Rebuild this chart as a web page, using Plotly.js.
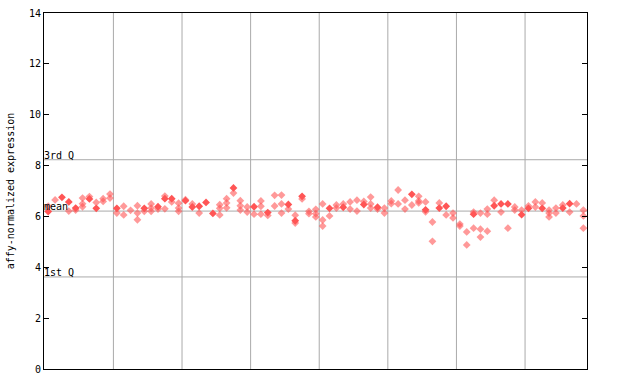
<!DOCTYPE html>
<html><head><meta charset="utf-8">
<script src="https://cdn.plot.ly/plotly-3.0.1.min.js"></script>
<style>body{margin:0;padding:0;background:#fff}#chart{width:640px;height:384px}</style>
</head><body><div id="chart"></div>
<script>
// sample column index for each point, value, and whether it's a highlighted (solid) point
const solidX = [0,2,3,4,6,7,10,14,16,17,18,20,21,22,23,24,27,30,32,35,36,37,41,43,46,48,53,55,57,58,62,65,66,67,69,70,72,75,76];
const solidY = [6.19,6.75,6.57,6.33,6.69,6.32,6.32,6.32,6.38,6.70,6.70,6.62,6.37,6.40,6.55,6.12,7.12,6.38,6.15,6.47,5.83,6.79,6.32,6.36,6.47,6.36,6.87,6.26,6.33,6.40,6.09,6.42,6.49,6.49,6.07,6.32,6.32,6.33,6.50];
const lightX = [0,1,3,4,5,5,5,6,7,8,8,9,9,
  10,11,11,12,13,13,13,14,15,15,15,16,17,17,18,19,19,19,
  20,21,22,25,25,25,26,26,26,27,28,28,28,29,29,
  30,31,31,31,32,33,33,34,34,34,35,36,36,37,38,38,39,39,39,
  40,40,40,41,42,42,43,44,44,45,45,46,47,47,47,48,49,49,
  50,50,51,51,52,52,53,54,54,54,55,55,56,56,57,58,59,59,
  60,60,61,61,62,62,63,63,63,64,64,64,65,66,67,68,68,69,
  70,71,71,72,73,73,73,74,74,75,76,77,78,78,78];
const lightY = [6.40,6.65,6.21,6.25,6.72,6.50,6.38,6.78,6.55,6.70,6.59,6.88,6.72,
  6.13,6.40,6.06,6.24,6.42,6.13,5.87,6.20,6.49,6.33,6.20,6.29,6.80,6.30,6.57,6.52,6.33,6.20,
  6.66,6.49,6.13,6.46,6.32,6.06,6.70,6.53,6.34,6.92,6.62,6.42,6.25,6.37,6.17,
  6.09,6.61,6.40,6.09,6.04,6.83,6.41,6.84,6.49,6.13,6.29,6.05,5.74,6.69,6.20,6.11,6.28,6.11,5.98,
  6.49,5.86,5.62,6.02,6.45,6.33,6.49,6.57,6.29,6.64,6.21,6.59,6.76,6.49,6.33,6.29,6.33,6.13,
  6.61,6.50,7.04,6.49,6.64,6.29,6.45,6.79,6.61,6.53,6.57,6.18,5.78,5.02,6.53,6.06,6.13,5.94,
  5.70,5.62,5.39,4.88,6.17,5.54,6.13,5.50,5.19,6.29,6.09,5.42,6.64,6.17,5.54,6.37,6.25,6.25,
  6.41,6.57,6.37,6.53,6.25,6.13,5.98,6.33,6.13,6.45,6.17,6.49,6.25,6.02,5.54];
const groupBounds = [9.5,19.5,29.5,39.5,49.5,59.5,69.5];
const refLines = [8.23, 6.21, 3.62];
const refLabels = ["3rd Q", "mean", "1st Q"];
const yTicks = [0,2,4,6,8,10,12,14];

const mono = "DejaVu Sans Mono, Liberation Mono, monospace";
const traces = [
  {type:'scatter', mode:'markers', x:lightX, y:lightY, hoverinfo:'none',
   marker:{symbol:'diamond', size:6, color:'rgba(255,85,85,0.6)', line:{width:0}}},
  {type:'scatter', mode:'markers', x:solidX, y:solidY, hoverinfo:'none',
   marker:{symbol:'diamond', size:6, color:'#ff5555', line:{width:0}}}
];
const shapes = [];
groupBounds.forEach(b => shapes.push({type:'line', xref:'x', yref:'paper', x0:b, x1:b, y0:0, y1:1, line:{color:'#aaaaaa', width:1}, layer:'below'}));
refLines.forEach(v => shapes.push({type:'line', xref:'paper', yref:'y', x0:0, x1:1, y0:v, y1:v, line:{color:'#aaaaaa', width:1}, layer:'below'}));
const annotations = refLines.map((v,i) => ({xref:'paper', yref:'y', x:0, y:v, text:refLabels[i], showarrow:false,
  xanchor:'left', yanchor:'bottom', xshift:-2, yshift:-3, font:{family:mono, size:10, color:'#000'}}));

const layout = {
  width:640, height:384, showlegend:false,
  paper_bgcolor:'#fff', plot_bgcolor:'#fff',
  margin:{l:44, r:53, t:13, b:15, pad:0},
  xaxis:{range:[-0.617, 78.53], showgrid:false, zeroline:false, showticklabels:false, ticks:'',
         showline:true, linecolor:'#000', linewidth:1, mirror:true, fixedrange:true},
  yaxis:{range:[0,14], tickvals:yTicks, ticktext:yTicks.map(String), showgrid:false, zeroline:false,
         ticks:'inside', ticklen:5, tickcolor:'#000', showline:true, linecolor:'#000', linewidth:1, mirror:'ticks',
         tickfont:{family:mono, size:10, color:'#000'},
         title:{text:'affy-normalized expression', font:{family:mono, size:10, color:'#000'}, standoff:12}},
  shapes:shapes, annotations:annotations
};
Plotly.newPlot('chart', traces, layout, {staticPlot:true, displayModeBar:false});
</script></body></html>
